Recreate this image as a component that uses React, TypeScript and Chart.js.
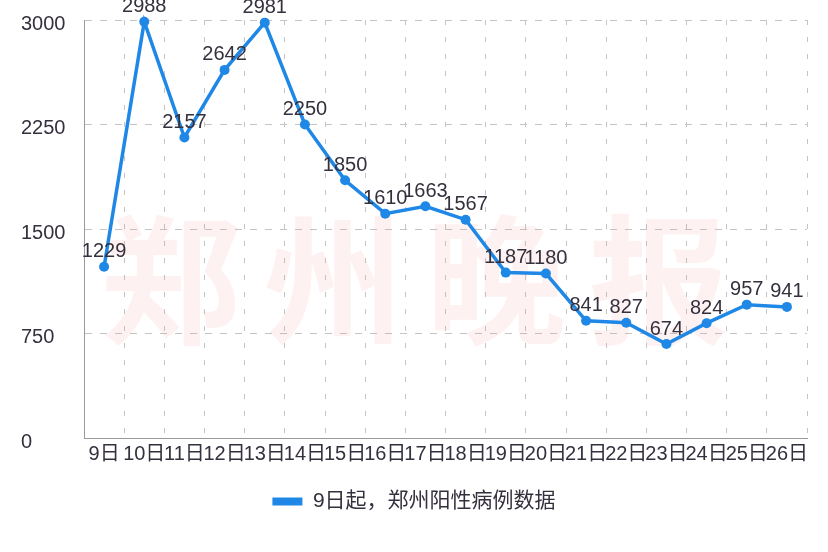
import React, { useEffect, useRef } from "react";
import { Chart, registerables } from "chart.js";

Chart.register(...registerables);

const categories = ["9日", "10日", "11日", "12日", "13日", "14日", "15日", "16日", "17日", "18日", "19日", "20日", "21日", "22日", "23日", "24日", "25日", "26日"];
const cases = [1229, 2988, 2157, 2642, 2981, 2250, 1850, 1610, 1663, 1567, 1187, 1180, 841, 827, 674, 824, 957, 941];
const seriesName = "9日起，郑州阳性病例数据";
const watermark = ["郑", "州", "晚", "报"];

const BLUE = "#1f88e6";
const TEXT = "#35303d";
const FONT = "'Liberation Sans', 'Noto Sans CJK SC', sans-serif";

const watermarkPlugin = {
  id: "watermark",
  beforeDatasetsDraw(chart: any) {
    const { ctx, chartArea } = chart;
    ctx.save();
    ctx.fillStyle = "rgba(235,150,140,0.12)";
    ctx.font = `bold 140px 'Noto Sans CJK SC'`;
    ctx.textAlign = "center";
    ctx.textBaseline = "middle";
    const w = chartArea.right - chartArea.left;
    watermark.forEach((ch, i) => {
      const x = chartArea.left + w * (0.12 + i * 0.225);
      ctx.fillText(ch, x, 280);
    });
    ctx.restore();
  },
};

const valueLabelPlugin = {
  id: "valueLabels",
  afterDatasetsDraw(chart: any) {
    const { ctx } = chart;
    const meta = chart.getDatasetMeta(0);
    ctx.save();
    ctx.font = `20px ${FONT}`;
    ctx.fillStyle = TEXT;
    ctx.textAlign = "center";
    ctx.textBaseline = "middle";
    meta.data.forEach((pt: any, i: number) => {
      ctx.fillText(String(chart.data.datasets[0].data[i]), pt.x, pt.y - 15);
    });
    ctx.restore();
  },
};

export default function App() {
  const ref = useRef<HTMLCanvasElement>(null);
  useEffect(() => {
    if (!ref.current) return;
    const chart = new Chart(ref.current, {
      type: "line",
      data: {
        labels: categories,
        datasets: [
          {
            label: seriesName,
            data: cases,
            borderColor: BLUE,
            backgroundColor: BLUE,
            borderWidth: 3.5,
            pointRadius: 5,
            pointBorderWidth: 0,
            pointBackgroundColor: BLUE,
            tension: 0,
            clip: false as any,
          },
        ],
      },
      options: {
        responsive: false,
        animation: false,
        layout: { padding: { left: 21, right: 21, top: 20, bottom: 30 } },
        plugins: {
          tooltip: { enabled: false },
          legend: {
            position: "bottom",
            labels: {
              boxWidth: 30,
              boxHeight: 8,
              padding: 10,
              color: TEXT,
              font: { size: 21, family: FONT },
              generateLabels: (c: any) =>
                Chart.defaults.plugins.legend.labels.generateLabels(c).map((l: any) => ({ ...l, lineWidth: 0, strokeStyle: BLUE })),
            },
          },
        },
        scales: {
          x: {
            offset: true,
            grid: { offset: true, color: "#c4c4c4", lineWidth: 1, drawTicks: false },
            border: { color: "#999", width: 1, dash: [5, 12] },
            ticks: { color: TEXT, font: { size: 20, family: FONT }, autoSkip: false, maxRotation: 0, padding: 4 },
            afterFit: (s: any) => { s.height = 43; },
          },
          y: {
            min: 0,
            max: 3000,
            grid: { color: "#c4c4c4", lineWidth: 1, drawTicks: false },
            border: { color: "#999", width: 1, dash: [7, 8] },
            ticks: {
              stepSize: 750,
              color: TEXT,
              font: { size: 20, family: FONT },
              crossAlign: "far",
              labelOffset: 4,
              padding: 8,
              callback: (v: any) => String(v),
            },
            afterFit: (s: any) => { s.width = 63; },
          },
        },
      },
      plugins: [watermarkPlugin, valueLabelPlugin],
    });
    return () => chart.destroy();
  }, []);
  return (
    <div style={{ position: "absolute", left: 0, top: 0, width: 828, height: 552, background: "#fff" }}>
      <canvas ref={ref} width={828} height={552} />
    </div>
  );
}
